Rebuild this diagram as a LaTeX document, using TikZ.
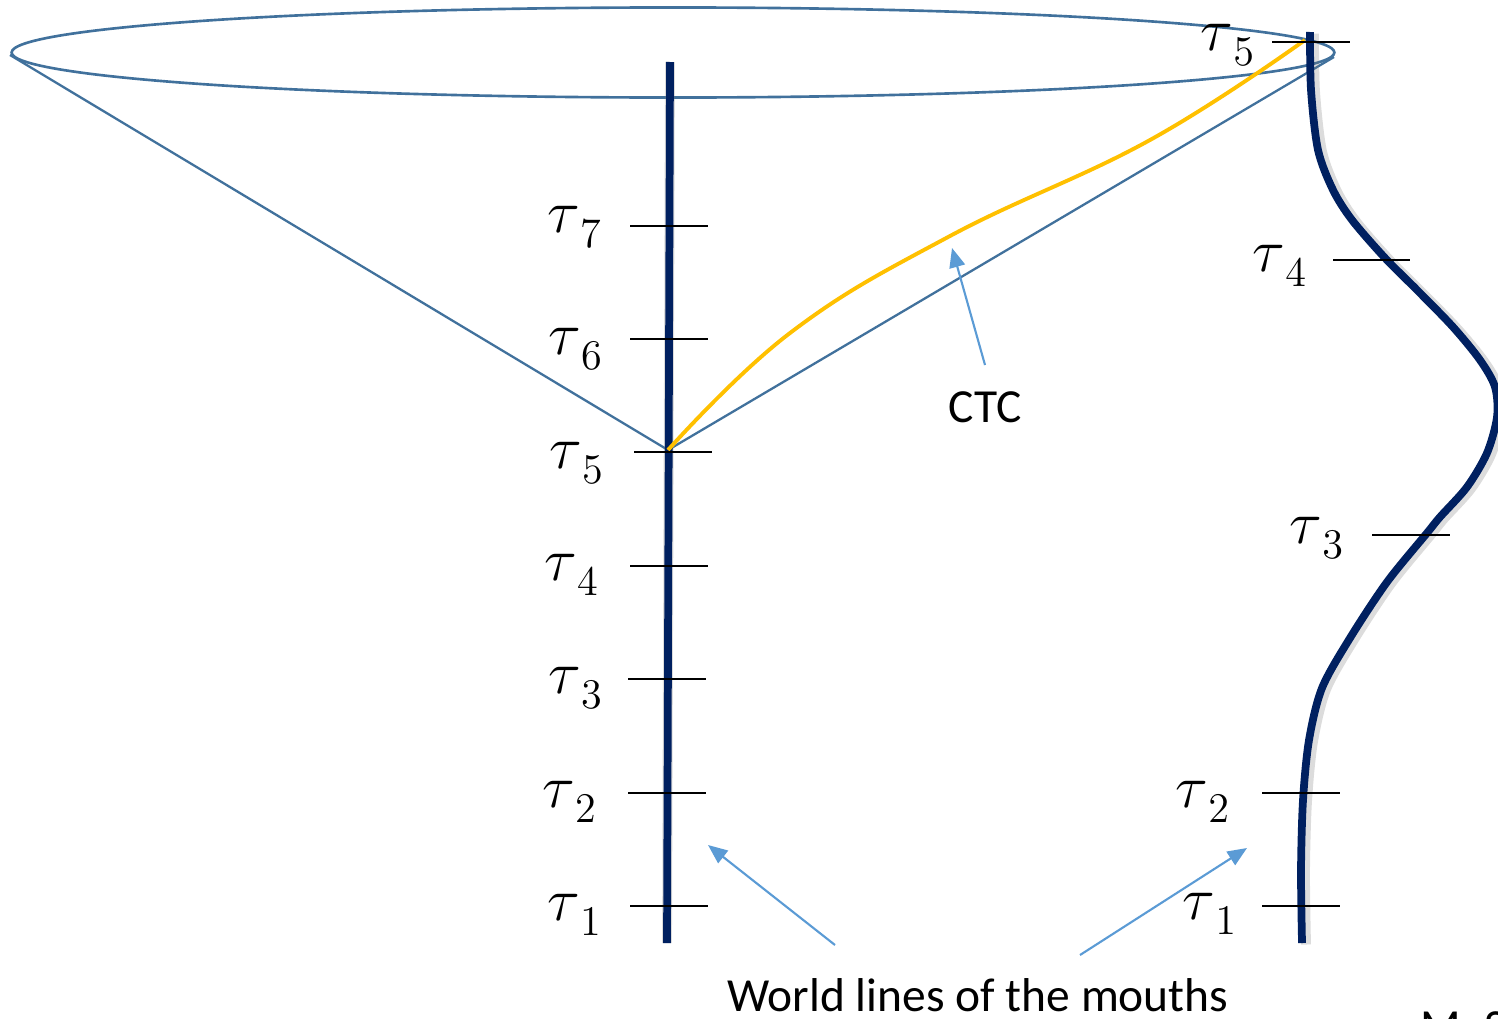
\documentclass[tikz,border=0pt]{standalone}
\usepackage{fontspec}
\setmainfont{Carlito}
\usetikzlibrary{arrows.meta}
\DeclareMathSizes{19}{19}{12.5}{10}
\definecolor{conecol}{HTML}{41719C}
\definecolor{navy}{HTML}{002060}
\definecolor{ctcyellow}{HTML}{FFC000}
\definecolor{arrowblue}{HTML}{5B9BD5}
\newcommand\taulab[1]{$\tau_{\,\lower1.5pt\hbox{$\scriptstyle #1$}}$}
\tikzset{
  cone/.style={draw=conecol, line width=0.65pt},
  worldline/.style={draw=navy, line width=2.2pt},
  wlshadow/.style={draw=black!55, opacity=0.25, line width=2.8pt, xshift=0.04cm, yshift=-0.015cm},
  tick/.style={draw=black, line width=0.6pt},
  taulabel/.style={inner sep=0pt, font=\fontsize{19}{21}\selectfont},
  pointer/.style={draw=arrowblue, line width=0.6pt, -{Triangle[length=5.5pt,width=4.5pt]}},
  sanslabel/.style={inner sep=0pt, font=\fontsize{13.5}{15}\selectfont},
}
\begin{document}
\begin{tikzpicture}[x=0.01cm, y=-0.01cm]
\useasboundingbox (0,0) rectangle (1498,1018);
\clip (0,0) rectangle (1498,1018);
% light cone
\coordinate (apex) at (668,450);
\coordinate (coneL) at (10,55);
\coordinate (coneR) at (1334,57);
\draw[conecol, line width=0.75pt] (673,52.5) ellipse [x radius=6.61cm, y radius=0.45cm];
\draw[cone] (coneL) -- (apex) -- (coneR);
% left world line
\coordinate (wlTop) at (670,62);
\coordinate (wlBot) at (667,943);
\draw[wlshadow] (wlTop) -- (wlBot);
\draw[worldline] (wlTop) -- (wlBot);
% right world line
\draw[wlshadow] plot[smooth, tension=0.5] coordinates {(1310,32) (1311,90) (1318,150) (1333,190) (1352,220) (1385,258) (1417,290) (1453,327) (1480,360) (1495,387) (1497,417) (1487,453) (1467,487) (1440,517) (1427,533) (1387,582) (1350,638) (1322,688) (1309,740) (1303,800) (1301,870) (1302,943)};
\draw[worldline] plot[smooth, tension=0.5] coordinates {(1310,32) (1311,90) (1318,150) (1333,190) (1352,220) (1385,258) (1417,290) (1453,327) (1480,360) (1495,387) (1497,417) (1487,453) (1467,487) (1440,517) (1427,533) (1387,582) (1350,638) (1322,688) (1309,740) (1303,800) (1301,870) (1302,943)};
% CTC
\draw[ctcyellow, line width=1.1pt] plot[smooth, tension=0.7] coordinates {(668,450) (790,333) (950,236) (1150,140) (1305,40)};
% left ticks
\foreach \y/\xa/\xb in {906/630/708, 793/628/706, 679/628/706, 566/630/708, 452/634/712, 339/630/708, 226/630/708}
  {\draw[tick] (\xa,\y) -- (\xb,\y);}
% left labels
\node[taulabel] (L7) at (575,227) {\taulab{7}};
\node[taulabel] (L6) at (576,349) {\taulab{6}};
\node[taulabel] (L5) at (577,463) {\taulab{5}};
\node[taulabel] (L4) at (572,575) {\taulab{4}};
\node[taulabel] (L3) at (576,688) {\taulab{3}};
\node[taulabel] (L2) at (570,802) {\taulab{2}};
\node[taulabel] (L1) at (575,915) {\taulab{1}};
% right ticks
\draw[tick] (1272,42) -- (1350,42);
\draw[tick] (1333,260) -- (1410,260);
\draw[tick] (1372,535) -- (1450,535);
\draw[tick] (1262,793) -- (1340,793);
\draw[tick] (1262,906) -- (1340,906);
% right labels
\node[taulabel] (R5) at (1228,45) {\taulab{5}};
\node[taulabel] (R4) at (1280,266) {\taulab{4}};
\node[taulabel] (R3) at (1317,538) {\taulab{3}};
\node[taulabel] (R2) at (1203,802) {\taulab{2}};
\node[taulabel] (R1) at (1210,914) {\taulab{1}};
% CTC label and pointer
\node[sanslabel] (ctc) at (985,407) {CTC};
\coordinate (ctcTail) at (985,365);
\coordinate (ctcHead) at (952,248);
\draw[pointer] (ctcTail) -- (ctcHead);
% world lines label and pointers
\node[sanslabel, anchor=base] (wltext) at (978,1011) {World lines of the mouths};
\coordinate (p1Tail) at (835,945);
\coordinate (p1Head) at (708,845);
\coordinate (p2Tail) at (1080,955);
\coordinate (p2Head) at (1247,848);
\draw[pointer] (p1Tail) -- (p1Head);
\draw[pointer] (p2Tail) -- (p2Head);
% cut-off text at bottom right
\node[sanslabel, anchor=base west] (cut) at (1420,1042) {M. S. Morris};
\end{tikzpicture}
\end{document}
